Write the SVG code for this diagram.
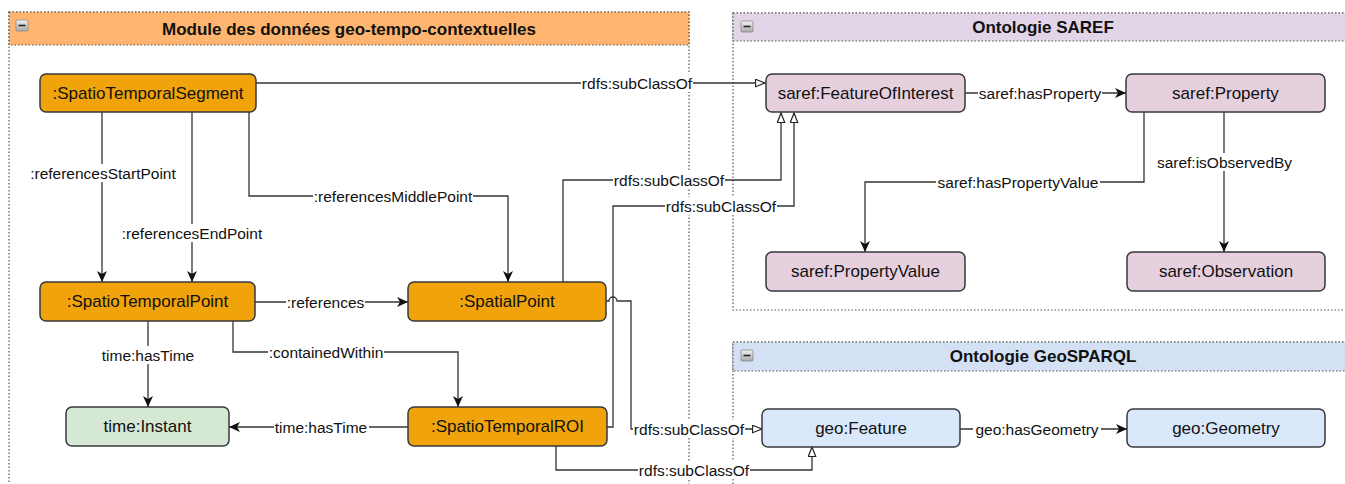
<svg xmlns="http://www.w3.org/2000/svg" width="1345" height="484" viewBox="0 0 1345 484">
<defs>
<style>
.cont{fill:none;stroke:#555;stroke-width:1.2;stroke-dasharray:1.5 2}
.hdr{stroke:#555;stroke-width:1.2;stroke-dasharray:1.5 2}
.htxt{font-family:"Liberation Sans",Arial,sans-serif;font-size:17px;font-weight:bold;fill:#111;text-anchor:middle;dominant-baseline:central}
.node{stroke:#36393d;stroke-width:1.5}
.ntxt{font-family:"Liberation Sans",Arial,sans-serif;font-size:17px;fill:#111;text-anchor:middle;dominant-baseline:central}
.orange{fill:#F0A30A}
.purple{fill:#E6D0DE}
.green{fill:#D5E8D4}
.blue{fill:#DAE8FC}
.edge{fill:none;stroke:#333;stroke-width:1.3}
.lbg{fill:#fff}
.ltxt{font-family:"Liberation Sans",Arial,sans-serif;font-size:15.5px;fill:#111;text-anchor:middle;dominant-baseline:central}
.icon{fill:#d6d6d6;stroke:#888;stroke-width:0.8}
</style>
<linearGradient id="ig" x1="0" y1="0" x2="0" y2="1"><stop offset="0" stop-color="#f2f2f2"/><stop offset="1" stop-color="#a8a8a8"/></linearGradient>
<marker id="arr" markerUnits="userSpaceOnUse" markerWidth="12" markerHeight="10" refX="11" refY="5" orient="auto"><path d="M0,0 L11,5 L0,10 L3,5 Z" fill="#111"/></marker>
<marker id="tri" markerUnits="userSpaceOnUse" markerWidth="12" markerHeight="10" refX="10.5" refY="4.5" orient="auto"><path d="M1,0.8 L10.5,4.5 L1,8.2 Z" fill="#fff" stroke="#222" stroke-width="1.2"/></marker>
</defs>
<rect width="1345" height="484" fill="#fff"/>

<g id="container-module">
<rect class="cont" x="9" y="12" width="680" height="500"/>
<rect class="hdr" x="9" y="12" width="680" height="33" fill="#FFB570"/>
<rect x="16" y="20" width="12" height="11" rx="1" fill="url(#ig)" stroke="#888" stroke-width="0.8"/>
<line x1="18.5" y1="25.5" x2="25.5" y2="25.5" stroke="#222" stroke-width="1.6"/>
<text class="htxt" x="349" y="29">Module des données geo-tempo-contextuelles</text>
</g>

<g id="container-saref">
<rect class="cont" x="733" y="13" width="622" height="297"/>
<rect class="hdr" x="733" y="13" width="622" height="28" fill="#E1D5E7"/>
<rect x="741" y="21" width="12" height="11" rx="1" fill="url(#ig)" stroke="#888" stroke-width="0.8"/>
<line x1="743.5" y1="26.5" x2="750.5" y2="26.5" stroke="#222" stroke-width="1.6"/>
<text class="htxt" x="1043" y="27">Ontologie SAREF</text>
</g>

<g id="container-geosparql">
<rect class="cont" x="733" y="342" width="622" height="170"/>
<rect class="hdr" x="733" y="342" width="622" height="29" fill="#D4E1F5"/>
<rect x="741" y="350" width="12" height="11" rx="1" fill="url(#ig)" stroke="#888" stroke-width="0.8"/>
<line x1="743.5" y1="355.5" x2="750.5" y2="355.5" stroke="#222" stroke-width="1.6"/>
<text class="htxt" x="1043" y="356.5">Ontologie GeoSPARQL</text>
</g>

<g id="connectors">
<path class="edge" d="M256,83 H765" marker-end="url(#tri)"/>
<rect class="lbg" x="581" y="74" width="112" height="18"/>
<text class="ltxt" x="637" y="83">rdfs:subClassOf</text>

<path class="edge" d="M102,112 V282" marker-end="url(#arr)"/>
<rect class="lbg" x="29" y="164" width="148" height="18"/>
<text class="ltxt" x="103" y="173">:referencesStartPoint</text>

<path class="edge" d="M192,112 V282" marker-end="url(#arr)"/>
<rect class="lbg" x="121" y="224" width="142" height="18"/>
<text class="ltxt" x="192" y="233">:referencesEndPoint</text>

<path class="edge" d="M249,112 V196 H508 V282" marker-end="url(#arr)"/>
<rect class="lbg" x="313" y="187" width="160" height="18"/>
<text class="ltxt" x="393" y="196">:referencesMiddlePoint</text>

<path class="edge" d="M255,302 H408" marker-end="url(#arr)"/>
<rect class="lbg" x="286" y="293" width="79" height="18"/>
<text class="ltxt" x="325.5" y="302">:references</text>

<path class="edge" d="M148,321 V407" marker-end="url(#arr)"/>
<rect class="lbg" x="101" y="346" width="95" height="18"/>
<text class="ltxt" x="148" y="355">time:hasTime</text>

<path class="edge" d="M233,321 V352 H458 V407" marker-end="url(#arr)"/>
<rect class="lbg" x="268" y="343" width="116" height="18"/>
<text class="ltxt" x="326" y="352">:containedWithin</text>

<path class="edge" d="M408,427 H229" marker-end="url(#arr)"/>
<rect class="lbg" x="274" y="418" width="95" height="18"/>
<text class="ltxt" x="321" y="427">time:hasTime</text>

<path class="edge" d="M563,282 V180 H781 V113" marker-end="url(#tri)"/>
<rect class="lbg" x="613" y="171" width="112" height="18"/>
<text class="ltxt" x="669" y="180">rdfs:subClassOf</text>

<path class="edge" d="M607,427 H613 V206 H794 V113" marker-end="url(#tri)"/>
<rect class="lbg" x="665" y="197" width="112" height="18"/>
<text class="ltxt" x="721" y="206">rdfs:subClassOf</text>

<path class="edge" d="M606,301 H609 A4,4 0 0 1 617,301 H631 V429 H762" marker-end="url(#tri)"/>
<rect class="lbg" x="633" y="420" width="112" height="18"/>
<text class="ltxt" x="689" y="429">rdfs:subClassOf</text>

<path class="edge" d="M556,446 V470 H812 V447" marker-end="url(#tri)"/>
<rect class="lbg" x="638" y="461" width="112" height="18"/>
<text class="ltxt" x="694" y="470">rdfs:subClassOf</text>

<path class="edge" d="M965,93 H1126" marker-end="url(#arr)"/>
<rect class="lbg" x="978" y="84" width="124" height="18"/>
<text class="ltxt" x="1040" y="93">saref:hasProperty</text>

<path class="edge" d="M1144,112 V182 H865 V252" marker-end="url(#arr)"/>
<rect class="lbg" x="936" y="173" width="164" height="18"/>
<text class="ltxt" x="1018" y="182">saref:hasPropertyValue</text>

<path class="edge" d="M1224,112 V252" marker-end="url(#arr)"/>
<rect class="lbg" x="1156" y="153" width="137" height="18"/>
<text class="ltxt" x="1224.5" y="162">saref:isObservedBy</text>

<path class="edge" d="M960,429 H1127" marker-end="url(#arr)"/>
<rect class="lbg" x="973" y="420" width="128" height="18"/>
<text class="ltxt" x="1037" y="429">geo:hasGeometry</text>
</g>

<g id="n-segment"><rect class="node orange" x="40" y="74" width="216" height="38" rx="6"/><text class="ntxt" x="148" y="93">:SpatioTemporalSegment</text></g>
<g id="n-stpoint"><rect class="node orange" x="40" y="282" width="215" height="39" rx="6"/><text class="ntxt" x="147.5" y="301.5">:SpatioTemporalPoint</text></g>
<g id="n-spatialpoint"><rect class="node orange" x="408" y="282" width="198" height="39" rx="6"/><text class="ntxt" x="507" y="301.5">:SpatialPoint</text></g>
<g id="n-instant"><rect class="node green" x="66" y="407" width="163" height="39" rx="6"/><text class="ntxt" x="147.5" y="426.5">time:Instant</text></g>
<g id="n-roi"><rect class="node orange" x="408" y="407" width="199" height="39" rx="6"/><text class="ntxt" x="507.5" y="426.5">:SpatioTemporalROI</text></g>
<g id="n-foi"><rect class="node purple" x="766" y="74" width="199" height="38" rx="6"/><text class="ntxt" x="865.5" y="93">saref:FeatureOfInterest</text></g>
<g id="n-property"><rect class="node purple" x="1126" y="74" width="199" height="38" rx="6"/><text class="ntxt" x="1225.5" y="93">saref:Property</text></g>
<g id="n-propvalue"><rect class="node purple" x="766" y="252" width="199" height="39" rx="6"/><text class="ntxt" x="865.5" y="271.5">saref:PropertyValue</text></g>
<g id="n-observation"><rect class="node purple" x="1127" y="252" width="198" height="39" rx="6"/><text class="ntxt" x="1226" y="271.5">saref:Observation</text></g>
<g id="n-geofeature"><rect class="node blue" x="762" y="409" width="198" height="38" rx="6"/><text class="ntxt" x="861" y="428">geo:Feature</text></g>
<g id="n-geometry"><rect class="node blue" x="1127" y="409" width="198" height="38" rx="6"/><text class="ntxt" x="1226" y="428">geo:Geometry</text></g>
</svg>
